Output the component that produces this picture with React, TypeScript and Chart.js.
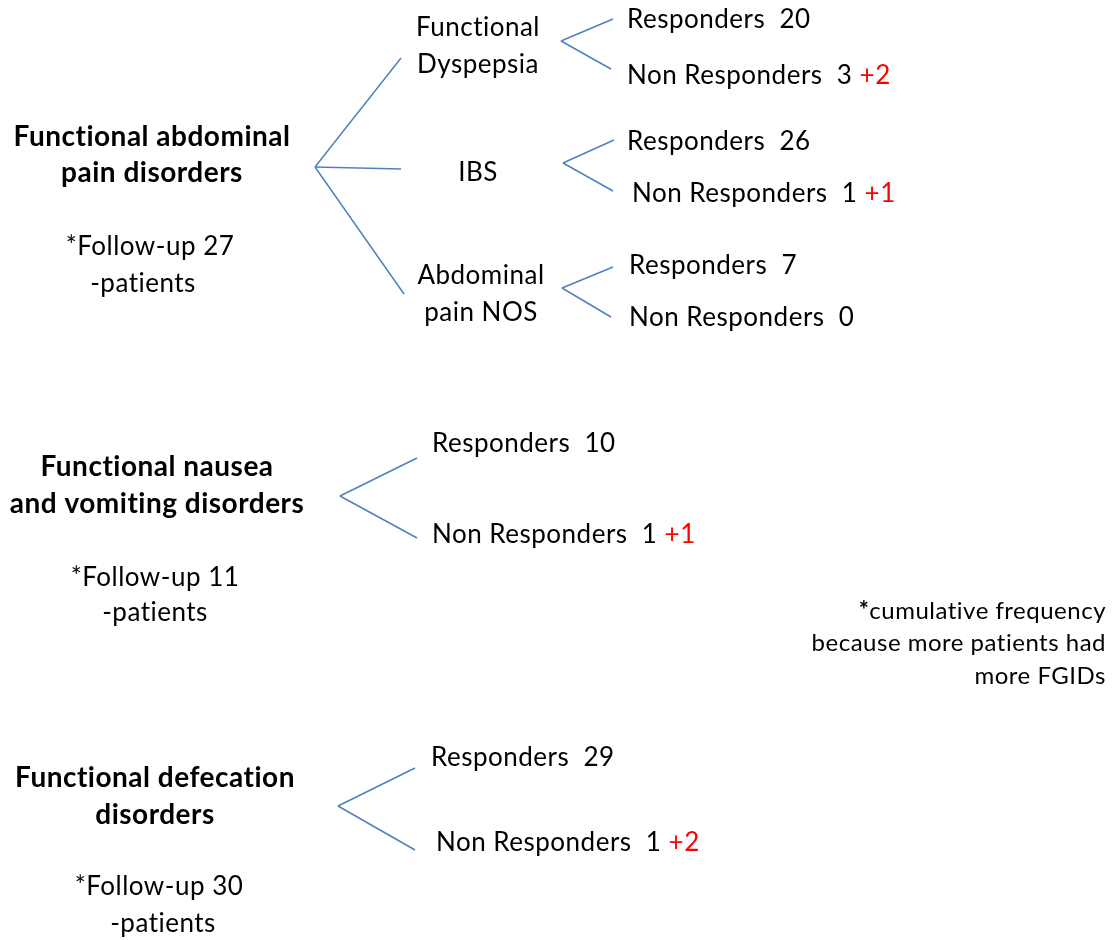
import React, { useEffect, useRef } from "react";
import { Chart, registerables } from "chart.js";

Chart.register(...registerables);

// ---------- data ----------
const groupLabels: string[][] = [
  ["Functional abdominal", "pain disorders"],
  ["Functional nausea", "and vomiting disorders"],
  ["Functional defecation", "disorders"],
];
const followUpCounts = [27, 11, 30];
const subtypeLabels: string[][] = [
  ["Functional", "Dyspepsia"],
  ["IBS"],
  ["Abdominal", "pain NOS"],
];
// leaves: Dyspepsia, IBS, Abdominal pain NOS, Nausea/vomiting, Defecation
const responders = [20, 26, 7, 10, 29];
const nonResponders = [3, 1, 0, 1, 1];
const extraNonResponders = [2, 1, 0, 1, 2];
const noteLines = ["cumulative frequency", "because more patients had", "more FGIDs"];

// ---------- layout (pixel space of the 1118x940 canvas) ----------
const W = 1118;
const H = 940;
const FONT = "Lato, 'Open Sans', sans-serif";
const FS = 26;
const FS_BOLD = 28;
const FS_NOTE = 24;
const LINE_COLOR = "#4f81bd";

const groupLayout = [
  { cx: 152, y: [137, 173], fy: [247, 284], fcx: [150, 143] },
  { cx: 157, y: [467, 504], fy: [578, 613], fcx: [155, 155] },
  { cx: 155, y: [778, 815], fy: [887, 924], fcx: [159, 163] },
];
const subtypeLayout = [
  { cx: 478, y: [28, 65] },
  { cx: 478, y: [173] },
  { cx: 481, y: [276, 313] },
];
// main fork of group 1 to subtypes
const mainFork = { o: [315, 167], ends: [[401, 58], [401, 169], [404, 294]] };
// leaf forks
const leafForks = [
  { o: [561, 41], top: [613, 19], bot: [611, 69], rx: 627, ry: 20, nx: 627, ny: 76 },
  { o: [563, 163], top: [614, 140], bot: [613, 191], rx: 627, ry: 142, nx: 632, ny: 194 },
  { o: [562, 288], top: [613, 267], bot: [611, 317], rx: 629, ry: 266, nx: 629, ny: 318 },
  { o: [340, 496], top: [417, 458], bot: [417, 538], rx: 432, ry: 444, nx: 432, ny: 535 },
  { o: [338, 806], top: [415, 768], bot: [415, 850], rx: 431, ry: 758, nx: 436, ny: 843 },
];
const noteLayout = { rx: 1106, y: [611, 643, 676] };

function seg(a: number[], b: number[]) {
  return [
    { x: a[0], y: a[1] },
    { x: b[0], y: b[1] },
  ];
}

export default function App() {
  const ref = useRef<HTMLCanvasElement | null>(null);

  useEffect(() => {
    if (!ref.current) return;
    const datasets: any[] = [];
    mainFork.ends.forEach((e) => datasets.push({ data: seg(mainFork.o, e) }));
    leafForks.forEach((f) => {
      datasets.push({ data: seg(f.o, f.top) });
      datasets.push({ data: seg(f.o, f.bot) });
    });
    datasets.forEach((d) => {
      d.showLine = true;
      d.borderColor = LINE_COLOR;
      d.borderWidth = 1.5;
      d.pointRadius = 0;
      d.fill = false;
    });

    const textPlugin = {
      id: "treeText",
      afterDraw(chart: any) {
        const { ctx } = chart;
        const xs = chart.scales.x;
        const ys = chart.scales.y;
        const px = (v: number) => xs.getPixelForValue(v);
        const py = (v: number) => ys.getPixelForValue(v);
        ctx.save();
        ctx.textBaseline = "middle";
        ctx.fillStyle = "#000";
        try {
          (ctx as any).letterSpacing = "0.5px";
        } catch (e) {}
        // group labels
        groupLabels.forEach((lines, i) => {
          const L = groupLayout[i];
          ctx.font = `bold ${FS_BOLD}px ${FONT}`;
          ctx.textAlign = "center";
          lines.forEach((t, j) => ctx.fillText(t, px(L.cx), py(L.y[j])));
          ctx.font = `${FS}px ${FONT}`;
          ctx.fillText(`*Follow-up ${followUpCounts[i]}`, px(L.fcx[0]), py(L.fy[0]));
          ctx.fillText("-patients", px(L.fcx[1]), py(L.fy[1]));
        });
        // subtypes
        ctx.font = `${FS}px ${FONT}`;
        ctx.textAlign = "center";
        subtypeLabels.forEach((lines, i) => {
          const L = subtypeLayout[i];
          lines.forEach((t, j) => ctx.fillText(t, px(L.cx), py(L.y[j])));
        });
        // leaves
        ctx.textAlign = "left";
        leafForks.forEach((f, i) => {
          ctx.fillStyle = "#000";
          ctx.fillText(`Responders  ${responders[i]}`, px(f.rx), py(f.ry));
          const nt = `Non Responders  ${nonResponders[i]}`;
          ctx.fillText(nt, px(f.nx), py(f.ny));
          if (extraNonResponders[i] > 0) {
            const w = ctx.measureText(nt + " ").width;
            ctx.fillStyle = "#ff0000";
            ctx.fillText(`+${extraNonResponders[i]}`, px(f.nx) + w, py(f.ny));
          }
        });
        // note
        ctx.fillStyle = "#000";
        ctx.textAlign = "right";
        noteLines.forEach((t, j) => {
          ctx.font = `${FS_NOTE}px ${FONT}`;
          ctx.fillText(t, px(noteLayout.rx), py(noteLayout.y[j]));
          if (j === 0) {
            const w = ctx.measureText(t).width;
            ctx.font = `bold ${FS_NOTE}px ${FONT}`;
            ctx.fillText("*", px(noteLayout.rx) - w, py(noteLayout.y[j]));
          }
        });
        ctx.restore();
      },
    };

    const chart = new Chart(ref.current, {
      type: "scatter",
      data: { datasets },
      options: {
        responsive: false,
        animation: false,
        events: [],
        layout: { padding: 0 },
        plugins: { legend: { display: false }, tooltip: { enabled: false } },
        scales: {
          x: { type: "linear", min: 0, max: W, display: false },
          y: { type: "linear", min: 0, max: H, reverse: true, display: false },
        },
      },
      plugins: [textPlugin],
    });
    return () => chart.destroy();
  }, []);

  return (
    <div style={{ position: "absolute", left: 0, top: 0, width: W, height: H, background: "#fff" }}>
      <canvas ref={ref} width={W} height={H} />
    </div>
  );
}
